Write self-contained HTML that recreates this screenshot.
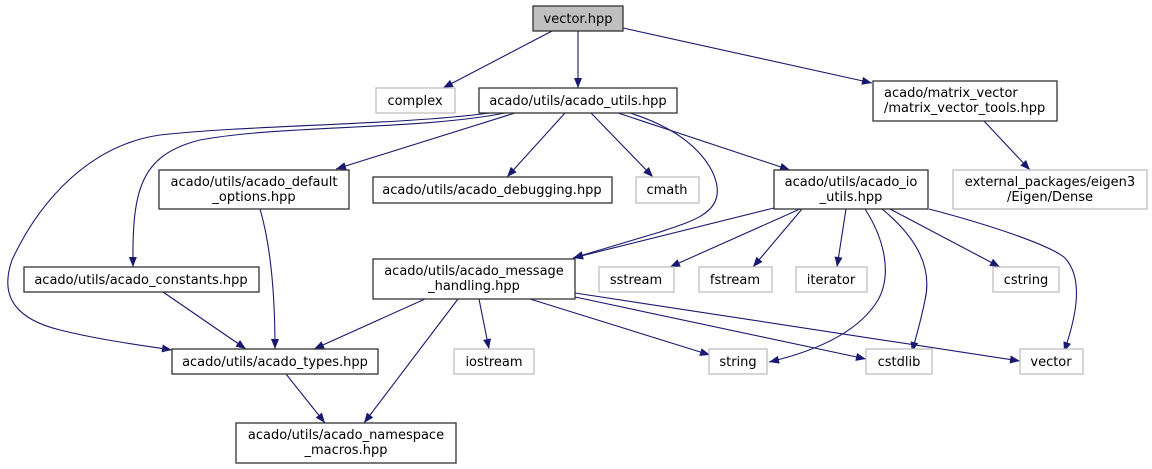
<!DOCTYPE html>
<html><head><meta charset="utf-8"><style>
html,body{margin:0;padding:0;background:#fff;}
svg{display:block;}
text{font-family:"DejaVu Sans","Liberation Sans",sans-serif;font-size:13px;fill:#000;text-anchor:middle;}
.n{fill:#fff;stroke:#333;stroke-width:1.3;}
.g{fill:#fff;stroke:#bfbfbf;stroke-width:1.3;}
.e{fill:none;stroke:#191970;stroke-width:1.1;marker-end:url(#a);}
</style></head><body>
<svg width="1152" height="469" viewBox="0 0 1152 469" xmlns="http://www.w3.org/2000/svg">
<defs><marker id="a" viewBox="0 0 10 8" refX="10" refY="4" markerWidth="11" markerHeight="8" markerUnits="userSpaceOnUse" orient="auto"><path d="M0,0 L10,4 L0,8 Z" fill="#191970"/></marker></defs>
<!-- edges -->
<path class="e" d="M552,31 L443,88"/>
<path class="e" d="M578,31 L578,88"/>
<path class="e" d="M623,28 L872,83"/>
<path class="e" d="M984,121 L1030,170"/>
<path class="e" d="M515,113 L336,169"/>
<path class="e" d="M565,113 L507,177"/>
<path class="e" d="M591,113 L653,177"/>
<path class="e" d="M618,113 L790,170"/>
<path class="e" d="M630,113 C700,135 720,175 717,195 C714,215 690,222 660,232 L573,258"/>
<path class="e" d="M774,208 L573,258"/>
<path class="e" d="M505,113 C420,130 280,125 200,140 C140,155 132,190 133,267"/>
<path class="e" d="M490,113 C400,125 250,125 160,135 C90,145 40,200 12,260 C-2,300 20,320 60,330 C100,340 140,345 172,350"/>
<path class="e" d="M260,209 C272,250 275,300 275,349"/>
<path class="e" d="M163,292 L246,349"/>
<path class="e" d="M425,299 L314,349"/>
<path class="e" d="M458,299 L364,423"/>
<path class="e" d="M479,299 L489,349"/>
<path class="e" d="M530,299 L710,355"/>
<path class="e" d="M575,297 L866,359"/>
<path class="e" d="M575,293 L1020,361"/>
<path class="e" d="M800,209 L670,267"/>
<path class="e" d="M802,209 L753,267"/>
<path class="e" d="M846,209 L837,267"/>
<path class="e" d="M865,209 C885,240 892,275 878,300 C860,330 820,350 769,362"/>
<path class="e" d="M882,209 C920,240 932,270 925,300 C920,325 915,340 912,352"/>
<path class="e" d="M890,209 L1000,267"/>
<path class="e" d="M929,209 C990,225 1050,245 1065,258 C1085,280 1075,320 1064,352"/>
<path class="e" d="M286,374 L325,423"/>
<!-- nodes -->
<rect x="533" y="6" width="90" height="25" fill="#bfbfbf" stroke="#333" stroke-width="1.3"/><text x="578" y="23">vector.hpp</text>
<rect class="g" x="376" y="88" width="79" height="25"/><text x="415" y="105">complex</text>
<rect class="n" x="479" y="88" width="198" height="25"/><text x="578" y="105">acado/utils/acado_utils.hpp</text>
<rect class="n" x="873" y="81" width="184" height="40"/><text x="884" y="97" style="text-anchor:start">acado/matrix_vector</text><text x="884" y="112" style="text-anchor:start">/matrix_vector_tools.hpp</text>
<rect class="n" x="159" y="170" width="190" height="39"/><text x="254" y="186">acado/utils/acado_default</text><text x="254" y="201">_options.hpp</text>
<rect class="n" x="373" y="177" width="239" height="26"/><text x="492" y="194">acado/utils/acado_debugging.hpp</text>
<rect class="g" x="636" y="177" width="63" height="26"/><text x="667" y="194">cmath</text>
<rect class="n" x="774" y="170" width="154" height="39"/><text x="851" y="186">acado/utils/acado_io</text><text x="851" y="201">_utils.hpp</text>
<rect class="g" x="953" y="170" width="194" height="39"/><text x="1050" y="186">external_packages/eigen3</text><text x="1050" y="201">/Eigen/Dense</text>
<rect class="n" x="24" y="267" width="235" height="25"/><text x="141" y="284">acado/utils/acado_constants.hpp</text>
<rect class="n" x="373" y="259" width="202" height="40"/><text x="474" y="275">acado/utils/acado_message</text><text x="474" y="290">_handling.hpp</text>
<rect class="g" x="599" y="267" width="75" height="25"/><text x="636" y="284">sstream</text>
<rect class="g" x="699" y="267" width="73" height="25"/><text x="735" y="284">fstream</text>
<rect class="g" x="796" y="267" width="71" height="25"/><text x="831" y="284">iterator</text>
<rect class="g" x="993" y="267" width="66" height="25"/><text x="1026" y="284">cstring</text>
<rect class="n" x="172" y="349" width="206" height="25"/><text x="275" y="366">acado/utils/acado_types.hpp</text>
<rect class="g" x="454" y="349" width="80" height="25"/><text x="494" y="366">iostream</text>
<rect class="g" x="709" y="349" width="58" height="25"/><text x="738" y="366">string</text>
<rect class="g" x="866" y="349" width="66" height="25"/><text x="899" y="366">cstdlib</text>
<rect class="g" x="1020" y="349" width="63" height="25"/><text x="1051" y="366">vector</text>
<rect class="n" x="236" y="423" width="220" height="40"/><text x="346" y="439">acado/utils/acado_namespace</text><text x="346" y="454">_macros.hpp</text>
</svg>
</body></html>
